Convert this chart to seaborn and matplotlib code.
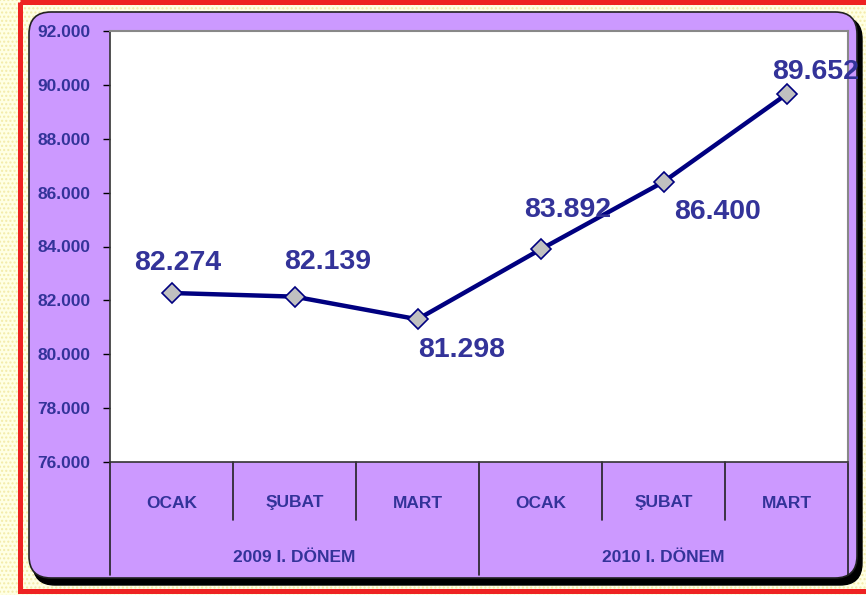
import matplotlib
matplotlib.use("Agg")
import matplotlib.pyplot as plt
import numpy as np
import pandas as pd
import seaborn as sns
from matplotlib.patches import FancyBboxPatch, Rectangle
from matplotlib.ticker import FuncFormatter

# data
months = ['OCAK', 'ŞUBAT', 'MART', 'OCAK', 'ŞUBAT', 'MART']
periods = ['2009 I. DÖNEM', '2010 I. DÖNEM']
values = [82274, 82139, 81298, 83892, 86400, 89652]
y_ticks = [76000, 78000, 80000, 82000, 84000, 86000, 88000, 90000, 92000]

# label offsets in pixels (dx, dy) relative to each point
label_offsets = [(6, 30), (33, 35), (44, -31), (27, 39), (54, -30), (29, 22)]

df = pd.DataFrame({'pos': np.arange(len(values)), 'value': values})

sns.set_theme(style='white')
plt.rcParams['font.family'] = ['Liberation Sans', 'DejaVu Sans']
plt.rcParams['font.weight'] = 'bold'

TXT = '#333399'
W, H = 866, 595
fig = plt.figure(figsize=(W / 100, H / 100), dpi=100)
fig.patch.set_facecolor('#FFFFE4')

# background layer in pixel coords
bg = fig.add_axes([0, 0, 1, 1], zorder=0)
bg.set_xlim(0, W)
bg.set_ylim(H, 0)
bg.axis('off')
bg.add_patch(Rectangle((0, 0), W, H, facecolor='#FFFFE4', edgecolor='#F3EBA8',
                       hatch='....', linewidth=0))
bg.add_patch(Rectangle((19.5, 1.5), 900, 589.5, facecolor='none', edgecolor='#EE2222',
                       linewidth=3.6))
# purple panel with shadow
bg.add_patch(FancyBboxPatch((33, 17), 829, 568, boxstyle='round,pad=0,rounding_size=22',
                            facecolor='black', edgecolor='black', linewidth=1))
bg.add_patch(FancyBboxPatch((29, 12), 828, 566, boxstyle='round,pad=0,rounding_size=22',
                            facecolor='#CC99FF', edgecolor='#222222', linewidth=1.2))

# plot area
ax = fig.add_axes([110 / W, (H - 462) / H, 738 / W, 431 / H], zorder=1)
ax.set_facecolor('white')
sns.lineplot(data=df, x='pos', y='value', ax=ax, color='#000080', linewidth=3.2,
             marker='D', markersize=10, markerfacecolor='#C0C0C0',
             markeredgecolor='#000080', markeredgewidth=1.2)

ax.set_xlim(-0.5, len(values) - 0.5)
ax.set_ylim(y_ticks[0], y_ticks[-1])
ax.set_yticks(y_ticks)
ax.yaxis.set_major_formatter(FuncFormatter(lambda v, p: f"{v:,.0f}".replace(',', '.')))
ax.set_xticks([])
ax.set_xlabel('')
ax.set_ylabel('')
ax.tick_params(axis='y', direction='out', length=5, width=1, color='black',
               labelsize=12.5, labelcolor=TXT, pad=9, left=True)
for lab in ax.get_yticklabels():
    lab.set_fontweight('bold')
for side in ['top', 'right']:
    ax.spines[side].set_color('#888888')
    ax.spines[side].set_linewidth(1.5)
for side in ['left', 'bottom']:
    ax.spines[side].set_color('#333333')
    ax.spines[side].set_linewidth(1.2)

# data labels
for i, (v, (dx, dy)) in enumerate(zip(values, label_offsets)):
    ax.annotate(f"{v:,.0f}".replace(',', '.'), (i, v), xytext=(dx, dy),
                textcoords='offset pixels', ha='center', va='center',
                fontsize=20.5, fontweight='bold', color=TXT)

# two-level category axis
trans = ax.get_xaxis_transform()
short_y, long_y = -58 / 431, -113 / 431
for i, m in enumerate(months):
    ax.text(i, -41 / 431, m, transform=trans, ha='center', va='center',
            fontsize=12.5, fontweight='bold', color=TXT, clip_on=False)
n = len(months) // len(periods)
for k in range(len(values) + 1):
    x = k - 0.5
    y_end = long_y if k % n == 0 else short_y
    ax.plot([x, x], [0, y_end], transform=trans, color='#222222', linewidth=1.2,
            clip_on=False)
for j, p in enumerate(periods):
    ax.text(j * n + (n - 1) / 2, -95 / 431, p, transform=trans, ha='center', va='center',
            fontsize=12.5, fontweight='bold', color=TXT, clip_on=False)

fig.savefig('out.png', dpi=100, facecolor=fig.get_facecolor())
